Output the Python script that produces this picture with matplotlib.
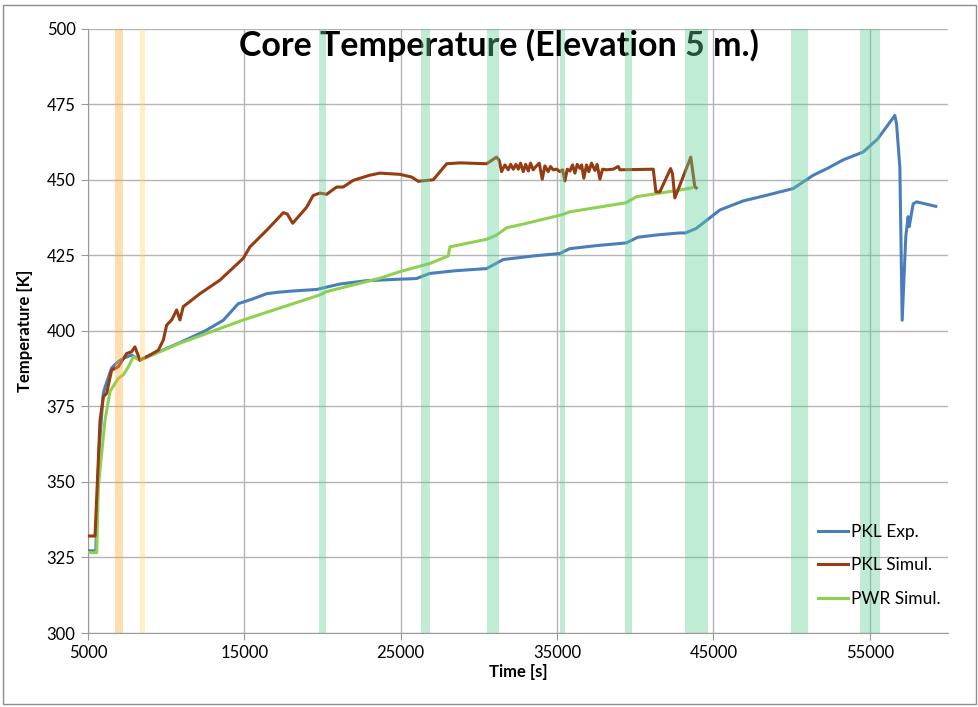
import matplotlib
matplotlib.use("Agg")
import matplotlib.pyplot as plt
from matplotlib.patches import Rectangle

plt.rcParams['font.family'] = ['Lato', 'DejaVu Sans']

# PKL experiment, core temperature at 5 m
exp_time = [5000, 5500, 5700, 5980, 6090, 6510, 6920, 7300, 7790, 8320,
            9500, 10880, 12500, 13650, 14610, 15500, 16430, 17200, 18130, 19620,
            21110, 22820, 24950, 26000, 26860, 28500, 30490, 31550, 33500, 35180,
            35800, 37500, 39420, 40170, 41500, 42830, 43210, 43900, 45410, 46900,
            48500, 50100, 51380, 52300, 53300, 54580, 55500, 56600, 56710, 56920,
            57070, 57300, 57450, 57520, 57770, 57990, 59220]
exp_temp = [327.2, 327.2, 360.0, 379.4, 381.4, 387.7, 389.8, 391.0, 392.0, 390.3,
            393.0, 396.1, 400.0, 403.5, 409.0, 410.5, 412.3, 412.8, 413.2, 413.7,
            415.5, 416.6, 417.1, 417.3, 419.0, 419.9, 420.6, 423.6, 424.8, 425.6,
            427.2, 428.2, 429.1, 431.0, 431.8, 432.4, 432.4, 433.9, 440.0, 443.0,
            445.0, 447.1, 451.5, 453.8, 456.6, 459.2, 463.5, 471.3, 468.5, 454.2,
            403.5, 431.2, 437.8, 434.5, 442.0, 442.7, 441.2]

# PKL simulation
pkl_time = [5000, 5450, 5770, 5980, 6190, 6510, 6940, 7470, 7790, 8000,
            8320, 8960, 9500, 9820, 10030, 10350, 10670, 10880, 11090, 12160,
            13440, 14930, 15360, 16430, 17490, 17740, 18090, 18980, 19400, 19830,
            20260, 20900, 21320, 21960, 23010, 23660, 24950, 25700, 26120, 27080,
            27940, 28790, 30490, 31130, 31300,
            31450, 31660, 31880, 32030, 32200, 32370, 32520, 32660, 32840, 32990,
            33160, 33300, 33470, 33650, 33860, 34050, 34220, 34430, 34580, 34750,
            34970, 35180, 35350, 35500, 35650, 35820, 35990, 36140, 36290, 36460,
            36570, 36710, 36880, 37030, 37200, 37420, 37560, 37740, 37910, 38160,
            38590, 38910, 39020, 41150, 41320, 41570, 42260, 42380, 42530, 42850,
            43550, 43810, 43900]
pkl_temp = [332.1, 332.1, 370.4, 378.2, 379.3, 387.0, 388.1, 392.5, 393.1, 394.7,
            390.3, 392.0, 393.6, 397.0, 401.9, 403.6, 406.9, 403.6, 408.0, 412.3,
            416.8, 424.0, 427.8, 433.3, 439.1, 438.7, 435.6, 440.9, 444.8, 445.6,
            445.2, 447.6, 447.6, 449.8, 451.5, 452.2, 451.8, 450.9, 449.5, 450.0,
            455.3, 455.6, 455.3, 457.5, 456.4,
            452.7, 454.9, 453.3, 455.1, 453.5, 455.1, 453.5, 455.5, 452.7, 455.1,
            452.9, 455.5, 453.3, 454.4, 455.5, 450.2, 454.6, 452.7, 454.4, 453.3,
            453.5, 452.7, 453.3, 449.6, 453.5, 452.9, 454.9, 452.2, 455.1, 453.8,
            454.9, 450.5, 454.9, 452.7, 455.5, 453.1, 455.1, 450.2, 453.5, 453.3,
            453.5, 454.4, 453.3, 453.5, 446.0, 446.0, 453.7, 452.0, 444.0, 448.2,
            457.5, 447.6, 447.3]

# PWR simulation
pwr_time = [5000, 5560, 5660, 6090, 6410, 6730, 6940, 7260, 7580, 7900,
            8320, 10880, 14930, 19830, 20260, 23660, 24950, 26860, 28040, 28150,
            30490, 31130, 31770, 33050, 34330, 35290, 35820, 39420, 40080, 42850,
            43600]
pwr_temp = [326.6, 326.6, 348.4, 370.5, 380.0, 382.6, 384.3, 385.4, 388.1, 391.4,
            390.3, 395.9, 403.6, 411.9, 413.0, 417.4, 419.6, 422.3, 424.8, 427.8,
            430.3, 431.7, 434.1, 435.6, 437.2, 438.4, 439.4, 442.4, 444.4, 446.6,
            447.3]

# shaded event windows [s]
orange_bands = [(6720, 7210)]
yellow_bands = [(8320, 8640)]
green_bands = [(19770, 20240), (26300, 26870), (30520, 31260), (35200, 35500),
               (39350, 39820), (43190, 44640), (49930, 51040), (54380, 55640)]

fig = plt.figure(figsize=(9.79, 7.07), dpi=100)
ax = fig.add_axes([88 / 979, 74 / 707, 860 / 979, 604.3 / 707])

ax.plot(exp_time, exp_temp, color='#4a7ebb', lw=2.2, label='PKL Exp.', zorder=3)
ax.plot(pkl_time, pkl_temp, color='#963c12', lw=2.2, label='PKL Simul.', zorder=4)
ax.plot(pwr_time, pwr_temp, color='#8fd14f', lw=2.2, label='PWR Simul.', zorder=3)

ax.text(0.478, 0.972, 'Core Temperature (Elevation 5 m.)', transform=ax.transAxes,
        ha='center', va='center', fontsize=24.5, fontweight='bold', zorder=2)

for a, b in orange_bands:
    ax.axvspan(a, b, color='#ffac39', alpha=0.4, lw=0, zorder=5)
for a, b in yellow_bands:
    ax.axvspan(a, b, color='#ffd96b', alpha=0.4, lw=0, zorder=5)
for a, b in green_bands:
    ax.axvspan(a, b, color='#62cd96', alpha=0.4, lw=0, zorder=5)

ax.set_xlim(5000, 60000)
ax.set_ylim(300, 500)
ax.set_xticks(range(5000, 60000, 10000))
ax.set_yticks(range(300, 501, 25))
ax.grid(True, color='#b4b4b4', lw=1.0)
ax.set_axisbelow(True)
for s in ['top', 'right']:
    ax.spines[s].set_visible(False)
for s in ['left', 'bottom']:
    ax.spines[s].set_color('#9a9a9a')
ax.tick_params(length=5, color='#9a9a9a', labelsize=12, pad=4)

ax.set_xlabel('Time [s]', fontsize=12, fontweight='bold', labelpad=2)
ax.set_ylabel('Temperature [K]', fontsize=12, fontweight='bold', labelpad=10)

ax.legend(loc='upper left', bbox_to_anchor=(818 / 979, 1 - 524 / 707),
          bbox_transform=fig.transFigure, frameon=False, fontsize=12.5,
          handlelength=1.7, handletextpad=0.2, labelspacing=1.0,
          borderpad=0, borderaxespad=0)

# outer chart frame
fig.patches.append(Rectangle((3 / 979, 3 / 707), 973 / 979, 699 / 707,
                             transform=fig.transFigure, fill=False,
                             edgecolor='#8c8c8c', lw=1.0))

fig.savefig('out.png', dpi=100)
